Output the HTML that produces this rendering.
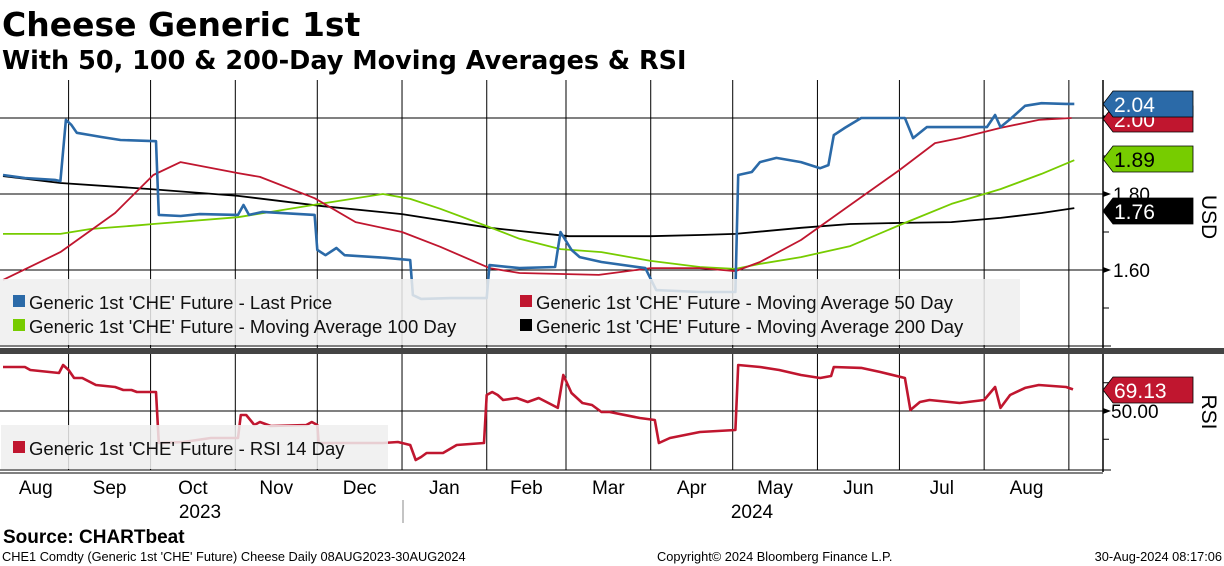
<!DOCTYPE html>
<html><head><meta charset="utf-8">
<style>
html,body{margin:0;padding:0;background:#fff;width:1224px;height:566px;overflow:hidden}
svg{display:block}
text{font-family:"Liberation Sans",sans-serif}
.t{font-family:"DejaVu Sans","Liberation Sans",sans-serif;font-weight:bold}
</style></head><body>
<svg id="chart" width="1224" height="566" viewBox="0 0 1224 566" xmlns="http://www.w3.org/2000/svg">
<text class="t" x="2" y="36" font-size="33">Cheese Generic 1st</text>
<text class="t" x="2" y="69" font-size="25.5">With 50, 100 &amp; 200-Day Moving Averages &amp; RSI</text>
<g id="grid"></g>
<g id="series"></g>
<g id="overlay"></g>
</svg>
<script>
// ---- data (day offset from 08-Aug-2023) ----
const priceDays=[0,8,19,21,23,25,27,32,36,43,56,57,65,72,86,88,90,95,114,115,118,122,125,140,149,150,153,164,177,178,189,202,204,208,211,219,235,239,255,268,269,274,277,283,292,299,302,304,308,314,318,330,333,338,351,360,363,365,369,374,380,389,392];
const priceVals=[1.850,1.842,1.837,1.834,1.995,1.982,1.961,1.955,1.950,1.942,1.939,1.745,1.742,1.747,1.745,1.771,1.745,1.753,1.745,1.653,1.639,1.658,1.639,1.632,1.626,1.534,1.524,1.526,1.526,1.613,1.605,1.608,1.700,1.653,1.634,1.621,1.605,1.547,1.542,1.542,1.850,1.858,1.884,1.895,1.884,1.868,1.876,1.955,1.974,2.000,2.000,2.000,1.947,1.976,1.976,1.976,2.008,1.976,2.000,2.032,2.039,2.037,2.037];
const ma50Days=[0,21,41,55,65,86,94,114,129,146,160,178,189,218,237,255,268,277,292,310,328,341,350,365,379,391];
const ma50Vals=[1.574,1.647,1.750,1.850,1.884,1.855,1.845,1.789,1.726,1.700,1.661,1.605,1.592,1.587,1.605,1.605,1.597,1.621,1.679,1.771,1.863,1.934,1.947,1.974,1.995,2.000];
const ma100Days=[0,21,32,50,55,86,116,139,149,160,178,189,204,219,237,255,268,277,292,310,329,347,365,380,392];
const ma100Vals=[1.695,1.695,1.708,1.718,1.721,1.739,1.774,1.800,1.787,1.761,1.713,1.682,1.655,1.647,1.624,1.608,1.603,1.616,1.634,1.663,1.721,1.774,1.813,1.853,1.889];
const ma200Days=[0,21,54,86,117,146,178,207,237,255,268,292,310,329,347,365,380,392];
const ma200Vals=[1.847,1.829,1.813,1.795,1.768,1.747,1.711,1.689,1.689,1.692,1.695,1.711,1.721,1.724,1.726,1.737,1.750,1.763];
const rsiDays=[0,8,10,20.5,22,24,26,29,34,41,44,47,49,56,57,66,76,86,87,89,92,94,98,111,113,115,115.5,125,139,144.5,149,151,153,155,161,166,176,177,179,181,183,188,192,196,201,203,205,208,212,215.5,219,222,233,238.5,240,244,255,268,269,277,284,292,299,303,304,314,321,330,332,335.5,339,350,359,363,365,368.5,374,379,389,391.5];
const rsiVals=[88.9,88.9,86.3,83.6,90.7,86.3,79.2,79.2,73.0,71.2,68.6,68.6,66.8,66.8,21.7,22.6,26.1,26.1,46.5,46.5,37.6,40.3,36.7,37.6,40.3,37.6,21.7,21.7,21.7,22.6,19.9,6.6,9.3,12.8,12.8,19.9,21.7,64.2,66.8,64.2,59.7,61.5,58.0,61.5,55.3,52.7,81.9,65.9,57.1,55.3,49.1,49.1,43.8,42.0,21.7,26.1,31.4,33.2,90.7,88.9,86.3,81.9,79.2,81.0,88.9,88.1,84.5,79.2,50.9,58.0,59.7,57.1,59.7,71.2,52.7,64.2,70.4,73.0,71.2,69.13];
const monthLabels=["Aug","Sep","Oct","Nov","Dec","Jan","Feb","Mar","Apr","May","Jun","Jul","Aug"];
const monthStartDays=[24,54,85,115,146,177,206,237,267,298,328,359,390];
const priceTicks=[1.60,1.80,2.00];
const priceMinor=[1.50,1.70,1.90];
const rsiTicks=[50];
const rsiMinor=[25,75];

// ---- axes ----
const X0=3,PXD=2.733;
const x=d=>X0+d*PXD;
const yP=v=>118+(2.00-v)*380;
const yR=v=>411-(v-50)*1.13;
const AX=1103, TOP=80, MIDTOP=348, LOWTOP=354, BOT=470;

const NS="http://www.w3.org/2000/svg";
function mk(tag,attrs,parent){const e=document.createElementNS(NS,tag);for(const k in attrs)e.setAttribute(k,attrs[k]);parent.appendChild(e);return e;}
const grid=document.getElementById('grid'),ser=document.getElementById('series'),ov=document.getElementById('overlay');

monthStartDays.forEach((d,i)=>{
  const gx=x(d);
  if(gx<AX){
    const l=mk('line',{x1:gx,y1:TOP,x2:gx,y2:MIDTOP,stroke:'#000','stroke-width':1},grid);
    
    
    const l2=mk('line',{x1:gx,y1:LOWTOP,x2:gx,y2:BOT,stroke:'#000','stroke-width':1},grid);
    
    
  }
});
monthLabels.forEach((m,i)=>{
  const mid=i===0? (x(0)+x(monthStartDays[0]))/2 : (x(monthStartDays[i-1])+x(monthStartDays[i]))/2;
  const t=mk('text',{x:mid,y:494,'font-size':19,'text-anchor':'middle',fill:'#000'},grid);
  t.textContent=m;
  
  
});
priceTicks.forEach(v=>{
  const gy=yP(v);
  const l=mk('line',{x1:0,y1:gy,x2:AX,y2:gy,stroke:'#000','stroke-width':1},grid);
  
  
  mk('path',{d:`M${AX} ${gy-3}L${AX+8} ${gy}L${AX} ${gy+3}Z`,fill:'#000'},grid);
  if(v<1.99){const t=mk('text',{x:AX+10,y:gy+7,'font-size':19,fill:'#000'},grid);t.textContent=v.toFixed(2);
  
  }
});
priceMinor.forEach(v=>{mk('line',{x1:AX,y1:yP(v),x2:AX+6,y2:yP(v),stroke:'#000'},grid);});
rsiTicks.forEach(v=>{
  const gy=yR(v);
  const l=mk('line',{x1:0,y1:gy,x2:AX,y2:gy,stroke:'#000','stroke-width':1},grid);
  
  
  mk('path',{d:`M${AX} ${gy-3}L${AX+8} ${gy}L${AX} ${gy+3}Z`,fill:'#000'},grid);
  const t=mk('text',{x:AX+8,y:gy+7,'font-size':19,fill:'#000'},grid);t.textContent=v.toFixed(2);
  
  
});
rsiMinor.forEach(v=>{mk('line',{x1:AX,y1:yR(v),x2:AX+6,y2:yR(v),stroke:'#000'},grid);});

function line(days,vals,yf,color,w,name){
  const n=Math.min(days.length,vals.length);
  const d=days.slice(0,n).map((dd,i)=>(i?'L':'M')+x(dd).toFixed(1)+' '+yf(vals[i]).toFixed(1)).join('');
  const p=mk('path',{d:d,fill:'none',stroke:color,'stroke-width':w,'stroke-linejoin':'round'},ser);
  
  
}
line(ma200Days,ma200Vals,yP,'#000',1.8,'ma200-line');
line(ma100Days,ma100Vals,yP,'#77cc00',1.8,'ma100-line');
line(ma50Days,ma50Vals,yP,'#c0162f',1.8,'ma50-line');
line(priceDays,priceVals,yP,'#2b6aa8',2.6,'last-price-line');
line(rsiDays,rsiVals,yR,'#c0162f',2.6,'rsi-line');

mk('line',{x1:AX,y1:TOP,x2:AX,y2:BOT+2,stroke:'#000','stroke-width':1.5},ov);
mk('rect',{x:0,y:348,width:1224,height:6,fill:'#444'},ov);
mk('line',{x1:0,y1:346,x2:AX+8,y2:346,stroke:'#000'},ov);
mk('line',{x1:0,y1:BOT,x2:AX+8,y2:BOT,stroke:'#000'},ov);
mk('line',{x1:0,y1:BOT+3,x2:AX,y2:BOT+3,stroke:'#000'},ov);
mk('line',{x1:403,y1:500,x2:403,y2:523,stroke:'#888'},ov);

const lg=mk('g',{},ov);


mk('rect',{x:0,y:279,width:1020,height:66,fill:'rgba(238,238,238,0.85)'},lg);
const items=[[13,303,'#2b6aa8',"Generic 1st 'CHE' Future - Last Price"],[520,303,'#c0162f',"Generic 1st 'CHE' Future - Moving Average 50 Day"],[13,327,'#77cc00',"Generic 1st 'CHE' Future - Moving Average 100 Day"],[520,327,'#000',"Generic 1st 'CHE' Future - Moving Average 200 Day"]];
items.forEach(it=>{
  mk('rect',{x:it[0],y:it[1]-8,width:12,height:12,fill:it[2]},lg);
  const t=mk('text',{x:it[0]+16,y:it[1]+6,'font-size':18.5,fill:'#111'},lg);t.textContent=it[3];
  
  
});
const lg2=mk('g',{},ov);


mk('rect',{x:1,y:425,width:387,height:44,fill:'rgba(238,238,238,0.85)'},lg2);
mk('rect',{x:13,y:441,width:12,height:12,fill:'#c0162f'},lg2);
const rt=mk('text',{x:29,y:455,'font-size':18.5,fill:'#111'},lg2);rt.textContent="Generic 1st 'CHE' Future - RSI 14 Day";

function tag(cy,color,txt,tc,name){
  const g=mk('g',{},ov);
  
  
  mk('path',{d:`M${AX} ${cy}L${AX+10} ${cy-13}L1193 ${cy-13}L1193 ${cy+13}L${AX+10} ${cy+13}Z`,fill:color,stroke:'#000','stroke-width':0.8},g);
  const t=mk('text',{x:AX+11,y:cy+8,'font-size':21,fill:tc},g);t.textContent=txt;
}
tag(119,'#c0162f','2.00','#fff','ma50-value-tag');
tag(104,'#2b6aa8','2.04','#fff','price-value-tag');
tag(159,'#77cc00','1.89','#000','ma100-value-tag');
tag(211,'#000','1.76','#fff','ma200-value-tag');
tag(390,'#c0162f','69.13','#fff','rsi-value-tag');

const u=mk('text',{x:1202,y:217,'font-size':21,'text-anchor':'middle',transform:'rotate(90 1202 217)'},ov);u.textContent='USD';

const r=mk('text',{x:1202,y:412,'font-size':21,'text-anchor':'middle',transform:'rotate(90 1202 412)'},ov);r.textContent='RSI';


const y1=mk('text',{x:200,y:518,'font-size':19,'text-anchor':'middle'},ov);y1.textContent='2023';

const y2=mk('text',{x:752,y:518,'font-size':19,'text-anchor':'middle'},ov);y2.textContent='2024';


const s=mk('text',{x:3,y:543,'font-size':19,'font-weight':'bold'},ov);s.textContent='Source: CHARTbeat';

const f1=mk('text',{x:2,y:561,'font-size':12.8},ov);f1.textContent="CHE1 Comdty (Generic 1st 'CHE' Future) Cheese  Daily 08AUG2023-30AUG2024";

const f2=mk('text',{x:657,y:561,'font-size':12.8},ov);f2.textContent="Copyright© 2024 Bloomberg Finance L.P.";

const f3=mk('text',{x:1222,y:561,'font-size':12.8,'text-anchor':'end'},ov);f3.textContent="30-Aug-2024 08:17:06";

</script>
</body></html>
